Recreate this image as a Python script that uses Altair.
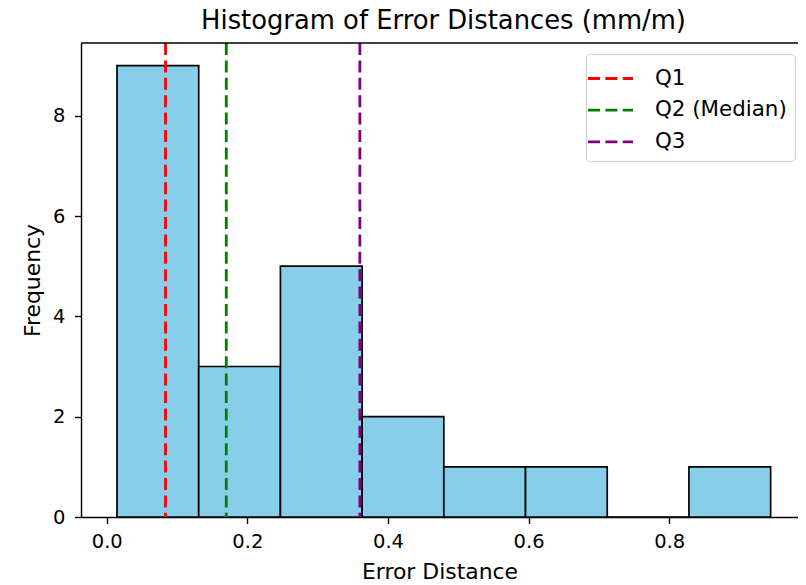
import altair as alt
import pandas as pd

# ---- data ----
bin_edges = [0.0146, 0.1308, 0.2470, 0.3632, 0.4794, 0.5956, 0.7118, 0.8280, 0.9442]
counts = [9, 3, 5, 2, 1, 1, 0, 1]
quartile_names = ["Q1", "Q2 (Median)", "Q3"]
quartile_values = [0.0836, 0.170, 0.360]
quartile_colors = ["red", "green", "purple"]
x_ticks = [0.0, 0.2, 0.4, 0.6, 0.8]
y_ticks = [0, 2, 4, 6, 8]

bars_df = pd.DataFrame({"start": bin_edges[:-1], "end": bin_edges[1:], "count": counts})
q_df = pd.DataFrame({"name": quartile_names, "value": quartile_values})
spine_df = pd.DataFrame({"s": [0]})

W, H = 717, 474
FONT = "DejaVu Sans"
DASH = [12, 5.4]

x_scale = alt.Scale(domain=[-0.0295, 0.976], nice=False, zero=False)
y_scale = alt.Scale(domain=[0, 9.45], nice=False, zero=True)

x_axis = alt.Axis(
    values=x_ticks, format=".1f", title="Error Distance", grid=False,
    domainColor="black", domainWidth=1.4, tickColor="black", tickWidth=1.4,
    tickSize=6.5, labelFontSize=19.5, labelPadding=9, labelColor="black",
    labelFont=FONT, titleFont=FONT, titleFontSize=21.9, titleFontWeight="normal",
    titleColor="black", titlePadding=10, labelFlush=False, labelOverlap=False,
)
y_axis = alt.Axis(
    values=y_ticks, format="d", title="Frequency", grid=False,
    domainColor="black", domainWidth=1.4, tickColor="black", tickWidth=1.4,
    tickSize=6.5, labelFontSize=19.5, labelPadding=9.5, labelColor="black",
    labelFont=FONT, titleFont=FONT, titleFontSize=21.9, titleFontWeight="normal",
    titleColor="black", titlePadding=8, labelFlush=False, labelOverlap=False,
)

bars = alt.Chart(bars_df).mark_bar(
    fill="#87CEEB", stroke="black", strokeWidth=1.7, orient="vertical"
).encode(
    x=alt.X("start:Q", scale=x_scale, axis=x_axis),
    x2="end:Q",
    y=alt.Y("count:Q", scale=y_scale, axis=y_axis),
    y2=alt.datum(0),
)

lines = alt.Chart(q_df).mark_rule(strokeDash=DASH, strokeWidth=2.8).encode(
    x=alt.X("value:Q", scale=x_scale),
    color=alt.Color(
        "name:N",
        scale=alt.Scale(domain=quartile_names, range=quartile_colors),
        legend=alt.Legend(
            title=None, orient="none", legendX=505, legendY=11,
            direction="vertical",
            symbolType="M-1.5,0L1.5,0", symbolSize=900,
            symbolStrokeWidth=2.8, symbolDash=DASH,
            labelFontSize=21.4, labelFont=FONT, labelColor="black",
            labelOffset=28, rowPadding=4.7, padding=8,
            strokeColor="#cccccc", cornerRadius=4, fillColor="white",
        ),
    ),
)

top_spine = alt.Chart(spine_df).mark_rule(stroke="black", strokeWidth=1.4).encode(
    x=alt.value(0), x2=alt.value(W), y=alt.value(0)
)

chart = alt.layer(bars, lines, top_spine).properties(
    width=W, height=H,
    title=alt.TitleParams(
        "Histogram of Error Distances (mm/m)", fontSize=25.8, font=FONT,
        fontWeight="normal", color="black", anchor="middle", offset=7, dx=4,
    ),
    autosize="none",
    padding={"left": 73, "top": 35, "right": 0, "bottom": 68},
    background="white",
).configure_view(stroke=None)

chart.save("out.html", embed_options={"renderer": "svg", "actions": False})
